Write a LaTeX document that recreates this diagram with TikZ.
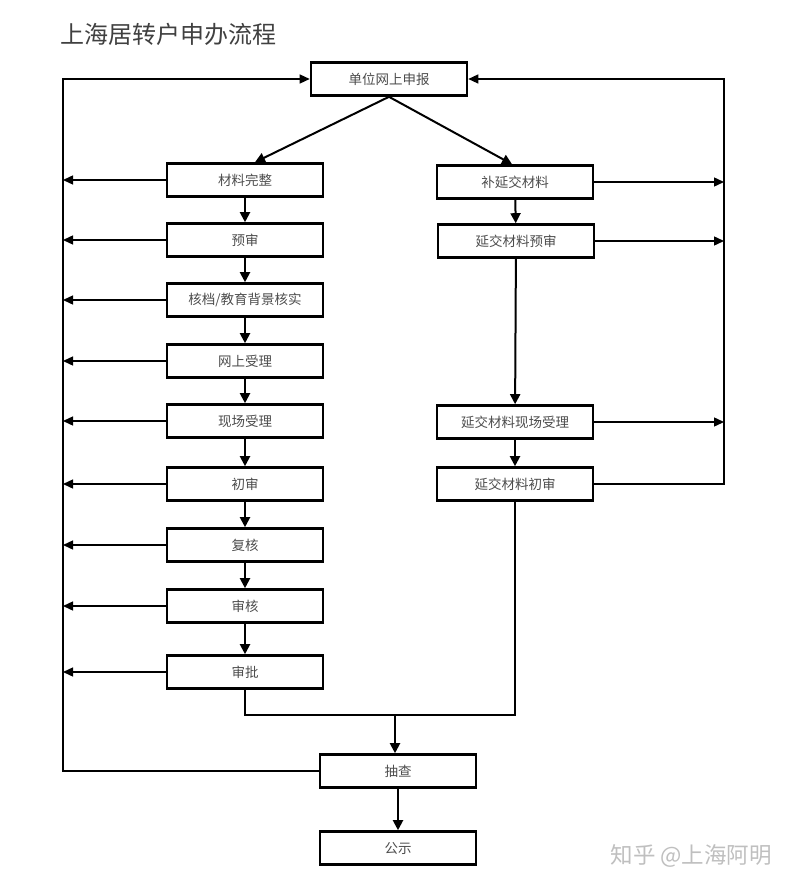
\documentclass[tikz,border=0pt]{standalone}
\usepackage{fontspec}
\newfontfamily\cjk{Noto Sans CJK SC}
\usetikzlibrary{arrows.meta}
\tikzset{
  box/.style={draw, line width=2.6pt, minimum width=156pt, minimum height=33pt, inner sep=0pt,
    font=\cjk\fontsize{13.5}{13.5}\selectfont, text=black!70},
  flow/.style={line width=2pt, -{Triangle[length=10pt,width=10pt]}},
  back/.style={line width=1.4pt, -{Triangle[length=10pt,width=9pt]}},
  link/.style={line width=1.4pt},
}
\begin{document}
\begin{tikzpicture}[x=1pt,y=-1pt]
\useasboundingbox (0,0) rectangle (802,890);
\node[anchor=west, font=\cjk\fontsize{24}{24}\selectfont, text=black!75] (title) at (57,34) {上海居转户申办流程};

% Boxes
\node[box] (report) at (389,79) {单位网上申报};
\node[box] (complete) at (245,180) {材料完整};
\node[box] (pre) at (245,240) {预审};
\node[box] (check) at (245,300) {核档/教育背景核实};
\node[box] (online) at (245,361) {网上受理};
\node[box] (onsite) at (245,421) {现场受理};
\node[box] (first) at (245,484) {初审};
\node[box] (recheck) at (245,545) {复核};
\node[box] (review) at (245,606) {审核};
\node[box] (approve) at (245,672) {审批};
\node[box] (supply) at (515,182) {补延交材料};
\node[box] (spre) at (516,241) {延交材料预审};
\node[box] (sonsite) at (515,422) {延交材料现场受理};
\node[box] (sfirst) at (515,484) {延交材料初审};
\node[box] (spot) at (398,771) {抽查};
\node[box] (publicize) at (398,848) {公示};

\coordinate (leftbus) at (63,0);
\coordinate (rightbus) at (724,0);
\coordinate (merge) at (395,715);

% Main flow
\draw[flow] (report.south) -- ([xshift=10pt]complete.north);
\draw[flow] (report.south) -- ([xshift=-3pt]supply.north);
\foreach \a/\b in {complete/pre, pre/check, check/online, online/onsite, onsite/first,
  first/recheck, recheck/review, review/approve, supply/spre, spre/sonsite, sonsite/sfirst}
  \draw[flow] (\a) -- (\b);
\draw[link] (approve.south) -- (approve.south |- merge) -- (sfirst.south |- merge) -- (sfirst.south);
\draw[flow] (merge) -- (merge |- spot.north);
\draw[flow] (spot) -- (publicize);

% Back to the start
\foreach \n in {complete, pre, check, online, onsite, first, recheck, review, approve}
  \draw[back] (\n.west) -- (\n.west -| leftbus);
\draw[back] (spot.west) -- (spot.west -| leftbus) -- (leftbus |- report) -- (report.west);
\foreach \n in {supply, spre, sonsite}
  \draw[back] (\n.east) -- (\n.east -| rightbus);
\draw[back] (sfirst.east) -- (sfirst.east -| rightbus) -- (rightbus |- report) -- (report.east);

\node[anchor=west, font=\cjk\fontsize{22.5}{22.5}\selectfont, text=black!25] (mark) at (607,856) {知乎 @上海阿明};
\end{tikzpicture}
\end{document}
